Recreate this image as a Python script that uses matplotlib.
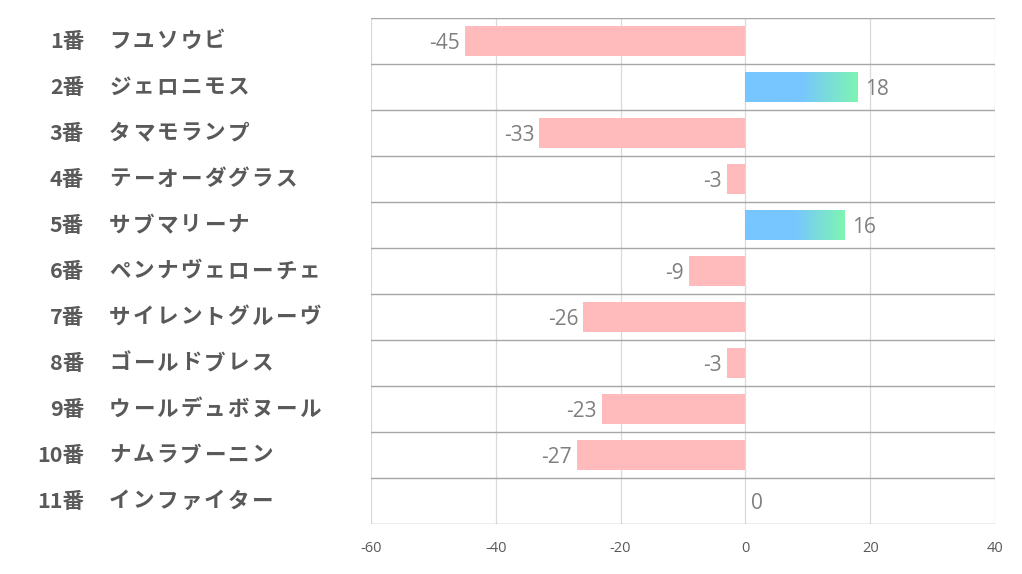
import numpy as np
import matplotlib.pyplot as plt
from matplotlib.colors import LinearSegmentedColormap

plt.rcParams['font.family'] = ['Noto Sans CJK JP', 'DejaVu Sans']

nums = ['1番', '2番', '3番', '4番', '5番', '6番', '7番', '8番', '9番', '10番', '11番']
names = ['フユソウビ', 'ジェロニモス', 'タマモランプ', 'テーオーダグラス', 'サブマリーナ',
         'ペンナヴェローチェ', 'サイレントグルーヴ', 'ゴールドブレス', 'ウールデュボヌール',
         'ナムラブーニン', 'インファイター']
values = [-45, 18, -33, -3, 16, -9, -26, -3, -23, -27, 0]
xticks = [-60, -40, -20, 0, 20, 40]

fig = plt.figure(figsize=(10.22, 5.74), dpi=100)
ax = fig.add_axes([371 / 1022, 1 - 524 / 574, (995 - 371) / 1022, (524 - 18) / 574])

n = len(values)
vfont = ['Open Sans', 'DejaVu Sans']
vsize = 15

for x in xticks:
    ax.axvline(x, color='#d9d9d9', lw=0.9, zorder=0)
for k in range(n + 1):
    ax.axhline(k - 0.5, color='#a6a6a6', lw=1.0, zorder=1)

h = 0.65
cmap = LinearSegmentedColormap.from_list('g', [(0, '#77c6ff'), (0.5, '#77c6ff'), (1, '#7ef5b2')])
grad = np.linspace(0, 1, 256).reshape(1, -1)
for i, v in enumerate(values):
    if v < 0:
        ax.barh(i, v, height=h, color='#ffbbbb', zorder=2)
        ax.text(v - 0.8, i + 0.06, str(v), ha='right', va='center', fontsize=vsize,
                color='#7f7f7f', family=vfont)
    elif v > 0:
        bars = ax.barh(i, v, height=h, color='none', zorder=2)
        im = ax.imshow(grad, cmap=cmap, aspect='auto', extent=[0, v, i + h / 2, i - h / 2], zorder=2)
        im.set_clip_path(bars[0])
        ax.text(v + 1.1, i + 0.06, str(v), ha='left', va='center', fontsize=vsize,
                color='#7f7f7f', family=vfont)
    else:
        ax.text(v + 0.9, i + 0.06, str(v), ha='left', va='center', fontsize=vsize,
                color='#7f7f7f', family=vfont)
ax.set_xlim(-60, 40)
ax.set_ylim(n - 0.5, -0.5)

ax.set_xticks(xticks)
ax.set_xticklabels([str(x) for x in xticks], fontsize=10.5, color='#595959', family=vfont)
ax.tick_params(axis='x', length=0, pad=12)
ax.set_yticks([])
for s in ax.spines.values():
    s.set_visible(False)

# names are set on a fixed full-width pitch, like the original font
pitch = 23.7
for i in range(n):
    y = ax.transData.transform((0, i))[1]
    yf = y / fig.bbox.height
    fig.text(84 / 1022, yf, nums[i], ha='right', va='center', fontsize=15.5,
             color='#595959', weight='bold')
    for j, ch in enumerate(names[i]):
        fig.text((108 + j * pitch + pitch / 2) / 1022, yf, ch, ha='center', va='center',
                 fontsize=15.5, color='#595959', weight='bold')

fig.savefig('out.png', dpi=100)
